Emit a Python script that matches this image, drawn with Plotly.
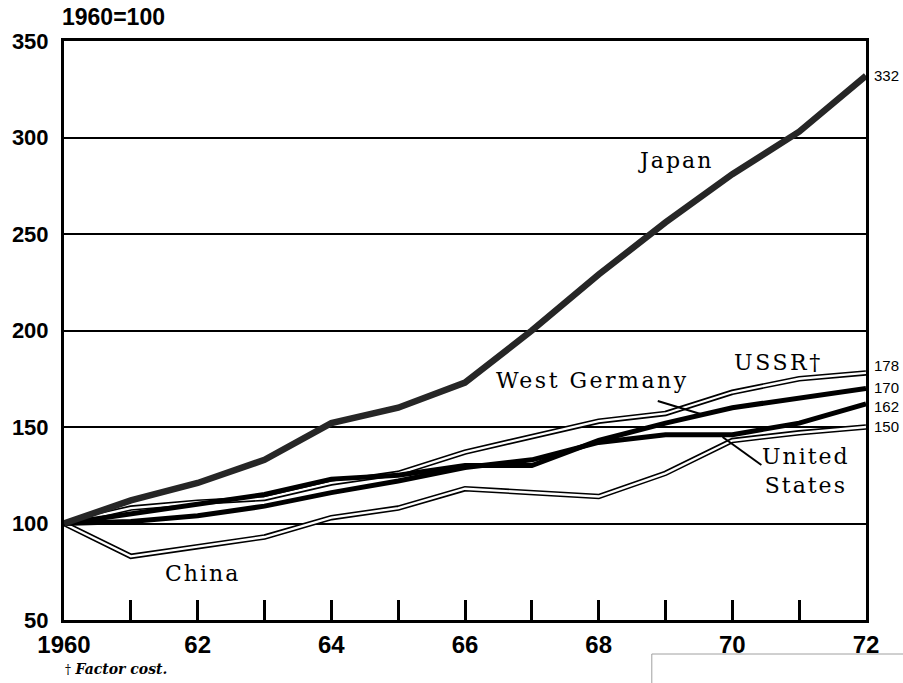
import plotly.graph_objects as go

# ---- data (index, 1960 = 100) ----
years = list(range(1960, 1973))
japan = [100, 112, 121, 133, 152, 160, 173, 200, 229, 256, 281, 303, 332]
ussr = [100, 108, 111, 113, 121, 126, 137, 145, 153, 157, 168, 175, 178]
west_germany = [100, 105, 110, 115, 123, 125, 130, 130, 143, 152, 160, 165, 170]
united_states = [100, 101, 104, 109, 116, 122, 129, 133, 142, 146, 146, 152, 162]
china = [100, 83, 88, 93, 103, 108, 118, 116, 114, 126, 143, 147, 150]

end_labels = ["332", "178", "170", "162", "150"]
end_values = [332, 178, 170, 162, 150]
x_tick_vals = years
x_tick_text = ["1960", "", "62", "", "64", "", "66", "", "68", "", "70", "", "72"]
y_tick_vals = [50, 100, 150, 200, 250, 300, 350]

# ---- layout geometry (pixels) ----
W, H = 903, 683
L, R, T, B = 61, 866, 41, 620


def px(x):
    return (x - L) / (R - L)


def py(y):
    return (B - y) / (B - T)


fig = go.Figure()

# double (outlined) lines: black with white core
for series in (china, ussr):
    fig.add_trace(go.Scatter(x=years, y=series, mode="lines",
                             line=dict(color="black", width=5.5),
                             hoverinfo="skip", showlegend=False))
    fig.add_trace(go.Scatter(x=years, y=series, mode="lines",
                             line=dict(color="white", width=2.3),
                             hoverinfo="skip", showlegend=False))

# solid heavy lines
fig.add_trace(go.Scatter(x=years, y=united_states, mode="lines",
                         line=dict(color="black", width=5),
                         hoverinfo="skip", showlegend=False))
fig.add_trace(go.Scatter(x=years, y=west_germany, mode="lines",
                         line=dict(color="black", width=5),
                         hoverinfo="skip", showlegend=False))
fig.add_trace(go.Scatter(x=years, y=japan, mode="lines",
                         line=dict(color="#262626", width=6.5),
                         hoverinfo="skip", showlegend=False))

sans = "Liberation Sans, Arial, sans-serif"
serif = "DejaVu Serif, serif"

fig.update_layout(
    width=W, height=H,
    margin=dict(l=L, r=W - R, t=T, b=H - B, pad=0),
    paper_bgcolor="white", plot_bgcolor="white",
    xaxis=dict(range=[1960, 1972], tickvals=x_tick_vals, ticktext=x_tick_text,
               ticks="inside", ticklen=20, tickwidth=2.5, tickcolor="black",
               showline=True, linecolor="black", linewidth=3, mirror=True,
               showgrid=False, zeroline=False,
               tickfont=dict(family=sans, size=24, color="black", weight="bold"),
               ticklabelstandoff=1),
    yaxis=dict(range=[50, 350], tickvals=y_tick_vals,
               ticks="", showline=True, linecolor="black", linewidth=3, mirror=True,
               showgrid=True, gridcolor="black", gridwidth=2, zeroline=False,
               tickfont=dict(family=sans, size=22, color="black", weight="bold"),
               ticklabelstandoff=8),
)

ann = []
# unit label
ann.append(dict(x=px(57), y=py(17), xref="paper", yref="paper", text="1960=100",
                showarrow=False, xanchor="left", yanchor="middle",
                font=dict(family=sans, size=23, color="black", weight="bold")))


def sp(txt, ls=2):
    return f"<span style='letter-spacing:{ls}px'>{txt}</span>"


lab_font = dict(family=serif, size=22, color="black")
ann.append(dict(x=px(675), y=py(161), xref="paper", yref="paper", text=sp("Japan"),
                showarrow=False, xanchor="center", yanchor="middle", font=lab_font))
ann.append(dict(x=px(731), y=py(362), xref="paper", yref="paper", text=sp("USSR†", 2.6),
                showarrow=False, xanchor="left", yanchor="middle", font=lab_font))
ann.append(dict(x=px(493), y=py(381), xref="paper", yref="paper", text=sp("West Germany", 2.5),
                showarrow=False, xanchor="left", yanchor="middle", font=lab_font))
ann.append(dict(x=px(806), y=py(471), xref="paper", yref="paper",
                text=sp("United") + "<br>" + sp("States"),
                showarrow=False, xanchor="center", yanchor="middle", align="center",
                font=lab_font))
ann.append(dict(x=px(200), y=py(573), xref="paper", yref="paper", text=sp("China"),
                showarrow=False, xanchor="center", yanchor="middle", font=lab_font))

# end-value labels on the right
shifts = [0, 7, 1, -3, 1]
for txt, val, s in zip(end_labels, end_values, shifts):
    ann.append(dict(x=1, y=val, xref="paper", yref="y", text=txt, showarrow=False,
                    xanchor="left", yanchor="middle", xshift=6, yshift=s,
                    font=dict(family=sans, size=15, color="black")))

# footnote
ann.append(dict(x=px(60), y=py(669), xref="paper", yref="paper",
                text="<span style='font-size:12px'>†</span> <b><i>Factor cost.</i></b>",
                showarrow=False, xanchor="left", yanchor="middle",
                font=dict(family=serif, size=14, color="black")))

fig.update_layout(annotations=ann)

shapes = []
# leader lines
shapes.append(dict(type="line", xref="paper", yref="paper",
                   x0=px(657), y0=py(401), x1=px(700), y1=py(414),
                   line=dict(color="black", width=2)))
shapes.append(dict(type="line", xref="paper", yref="paper",
                   x0=px(722), y0=py(437), x1=px(761), y1=py(465),
                   line=dict(color="black", width=2)))
# faint scan box at the lower right
shapes.append(dict(type="line", xref="paper", yref="paper",
                   x0=px(651), y0=py(690), x1=px(651), y1=py(654),
                   line=dict(color="#a0a0a0", width=1)))
shapes.append(dict(type="line", xref="paper", yref="paper",
                   x0=px(651), y0=py(654), x1=px(910), y1=py(654),
                   line=dict(color="#a0a0a0", width=1)))
fig.update_layout(shapes=shapes)

fig.write_html("out.html", config={"displayModeBar": False},
               post_script="document.body.style.margin='0';document.body.style.overflow='hidden';")
